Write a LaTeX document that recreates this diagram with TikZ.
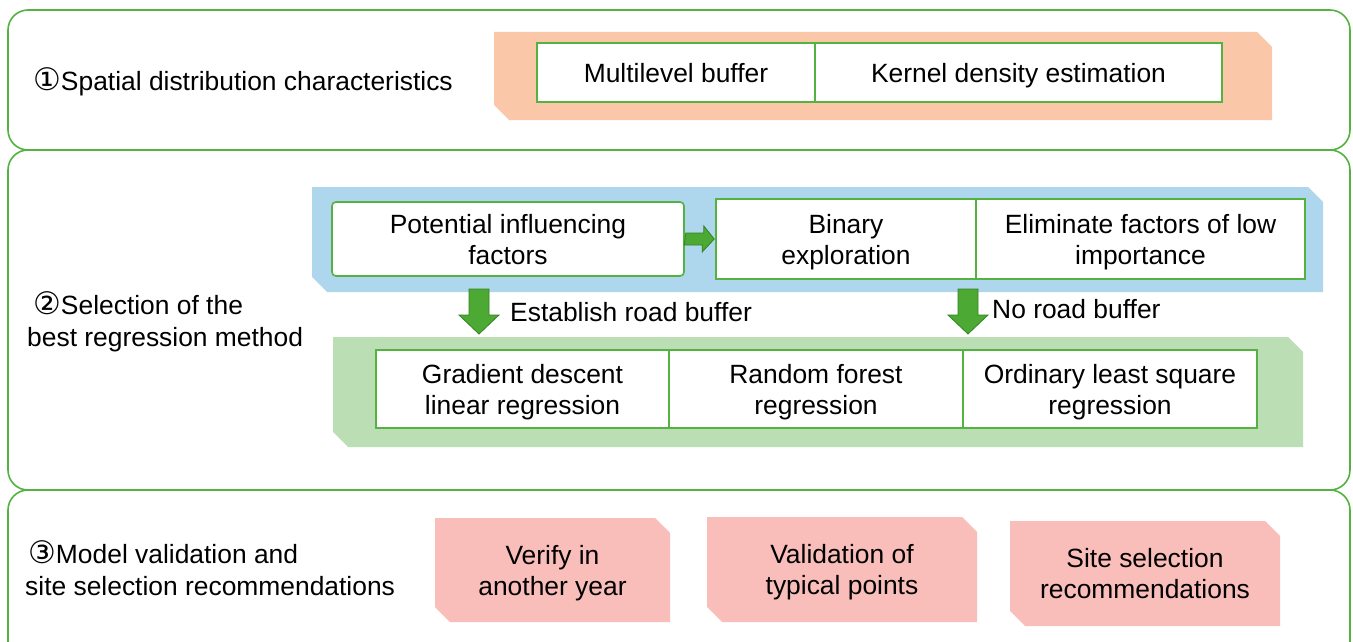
\documentclass[tikz,border=0pt]{standalone}
\usepackage{fontspec}
\setmainfont{Liberation Sans}
\newfontfamily\symf{DejaVu Sans}
\usetikzlibrary{calc}
\definecolor{pgreen}{RGB}{84,178,64}
\definecolor{orangeband}{RGB}{250,200,168}
\definecolor{blueband}{RGB}{174,214,236}
\definecolor{greenband}{RGB}{188,222,180}
\definecolor{pinkbox}{RGB}{249,190,186}
\definecolor{arrowfill}{RGB}{76,170,52}
\definecolor{arrowline}{RGB}{52,130,36}
\newcommand\numc[1]{{\fontsize{31}{31}\selectfont\symf #1}}
\tikzset{
  panel/.style={draw=pgreen, line width=1.6pt, rounded corners=20pt, fill=white},
  txt/.style={font=\fontsize{26.4}{31}\selectfont, align=center},
  oneline/.style={text height=27pt, text depth=6pt},
  twoline/.style={text height=56pt, text depth=6pt},
  wbox/.style={txt, draw=pgreen, line width=1.6pt, fill=white, inner sep=0pt},
  lbl/.style={font=\fontsize{26.4}{32}\selectfont, anchor=west, align=left, inner sep=0pt},
  cutshape/.style={txt, inner sep=0pt, path picture={
    \fill[#1] (path picture bounding box.north west)
      -- ([xshift=-15pt]path picture bounding box.north east)
      -- ([yshift=-15pt]path picture bounding box.north east)
      -- (path picture bounding box.south east)
      -- ([xshift=15pt]path picture bounding box.south west)
      -- ([yshift=15pt]path picture bounding box.south west) -- cycle;}},
  blockarrow/.style={fill=arrowfill, draw=arrowline, line width=0.8pt, line join=miter},
}
\begin{document}
\begin{tikzpicture}[x=1pt,y=-1pt]
\useasboundingbox (0,0) rectangle (1353,642);
\clip (0,0) rectangle (1353,642);
% panels
\draw[panel] (8,10) rectangle (1350,150);
\draw[panel] (8,150) rectangle (1350,490);
\draw[panel] (8,490) rectangle (1350,690);
% labels
\node[lbl] (l1) at (33,82) {\numc{①}Spatial distribution characteristics};
\node[lbl] (l2) at (27,322) {\hspace*{6pt}\numc{②}Selection of the\\best regression method};
\node[lbl] (l3) at (25,568) {\hspace*{3pt}\numc{③}Model validation and\\site selection recommendations};
% section 1
\node[cutshape=orangeband, minimum width=778, minimum height=88] (orange) at (883,76) {};
\node[wbox, oneline, minimum width=278, minimum height=59] (mb) at (676,72.5) {Multilevel buffer};
\node[wbox, oneline, minimum width=407, minimum height=59] (kde) at (1018.5,72.5) {Kernel density estimation};
% section 2
\node[cutshape=blueband, minimum width=1011, minimum height=105] (blue) at (817.5,239.5) {};
\node[wbox, twoline, rounded corners=4pt, minimum width=352, minimum height=74] (pif) at (508,239) {Potential influencing\\factors};
\node[wbox, twoline, minimum width=260, minimum height=80] (bin) at (846,239) {Binary\\exploration};
\node[wbox, twoline, minimum width=329, minimum height=80] (elim) at (1140.5,239) {Eliminate factors of low\\importance};
\node[cutshape=greenband, minimum width=970, minimum height=110] (green) at (818,392) {};
\node[wbox, twoline, minimum width=293, minimum height=78] (gd) at (522.5,389) {Gradient descent\\linear regression};
\node[wbox, twoline, minimum width=294, minimum height=78] (rf) at (816,389) {Random forest\\regression};
\node[wbox, twoline, minimum width=294, minimum height=78] (ols) at (1110,389) {Ordinary least square\\regression};
% arrows
\draw[blockarrow] ($(pif.east)+(1,-6)$) -- ++(18,0) -- ++(0,-7) -- ($(bin.west)+(-1,0)$) -- ++(-12,13) -- ++(0,-7) -- ++(-18,0) -- cycle;
\coordinate (d1s) at (479,289); \coordinate (d1e) at (479,334);
\coordinate (d2s) at (968,289); \coordinate (d2e) at (968,334);
\draw[blockarrow] ($(d1s)+(10,0)$) -- ++(0,26) -- ++(10,0) -- (d1e) -- ++(-20,-19) -- ++(10,0) -- ++(0,-26) -- cycle;
\draw[blockarrow] ($(d2s)+(10,0)$) -- ++(0,26) -- ++(10,0) -- (d2e) -- ++(-20,-19) -- ++(10,0) -- ++(0,-26) -- cycle;
\node[lbl] (t1) at (510,312) {Establish road buffer};
\node[lbl] (t2) at (992,309) {No road buffer};
% section 3
\node[cutshape=pinkbox, twoline, minimum width=235, minimum height=104] (p1) at (552.5,570) {Verify in\\another year};
\node[cutshape=pinkbox, twoline, minimum width=270, minimum height=105] (p2) at (842,569.5) {Validation of\\typical points};
\node[cutshape=pinkbox, twoline, minimum width=270, minimum height=105] (p3) at (1145,573.5) {Site selection\\recommendations};
\end{tikzpicture}
\end{document}
